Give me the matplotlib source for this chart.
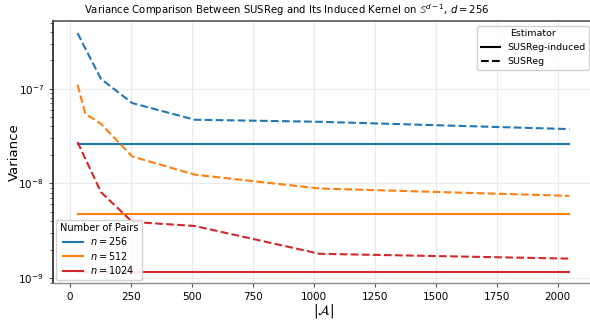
import numpy as np
import matplotlib
matplotlib.use("Agg")
import matplotlib.pyplot as plt
from matplotlib.lines import Line2D

# |A| sizes
A = [32, 64, 128, 256, 512, 1024, 2048]
pairs = [256, 512, 1024]
colores = ["tab:blue", "tab:orange", "tab:red"]

# SUSReg variance (dashed)
susreg_256 = [3.87e-7, 2.65e-7, 1.27e-7, 7.06e-8, 4.71e-8, 4.48e-8, 3.75e-8]
susreg_512 = [1.10e-7, 5.45e-8, 4.26e-8, 1.93e-8, 1.24e-8, 8.85e-9, 7.4e-9]
susreg_1024 = [2.74e-8, 1.82e-8, 8.1e-9, 3.93e-9, 3.56e-9, 1.81e-9, 1.61e-9]

# SUSReg-induced kernel variance (solid, constant in |A|)
induced_256 = [2.62e-8] * len(A)
induced_512 = [4.71e-9] * len(A)
induced_1024 = [1.16e-9] * len(A)

susreg = [susreg_256, susreg_512, susreg_1024]
induced = [induced_256, induced_512, induced_1024]

fig = plt.figure(figsize=(5.9, 3.2), dpi=100)
ax = fig.add_axes([0.0898, 0.1156, 0.917, 0.819])

lineas_n = []
for n, c, s, ind in zip(pairs, colores, susreg, induced):
    l, = ax.plot(A, ind, "-", color=c, lw=1.5)
    ax.plot(A, s, "--", color=c, lw=1.5)
    lineas_n.append(l)

ax.set_yscale("log")
ax.set_xlim(-68.8, 2148.8)
ax.set_ylim(8.9e-10, 5.2e-7)
ax.set_xticks([0, 250, 500, 750, 1000, 1250, 1500, 1750, 2000])
ax.grid(True, which="major", color="#ebebeb", lw=0.9)
ax.set_axisbelow(True)
ax.tick_params(labelsize=7.5, length=3, color="#555555")
ax.tick_params(which="minor", length=2, color="#555555")

ax.spines["left"].set_color("#222222")
ax.spines["left"].set_linewidth(1.2)
ax.spines["top"].set_color("#555555")
ax.spines["top"].set_linewidth(1.2)
ax.spines["bottom"].set_color("#888888")
ax.spines["bottom"].set_linewidth(1.0)
ax.spines["right"].set_visible(False)

ax.set_xlabel(r"$|\mathcal{A}|$", fontsize=10, labelpad=0)
ax.set_ylabel("Variance", fontsize=9.5)
ax.yaxis.set_label_coords(-0.06, 0.5)
titulo = ax.set_title(r"Variance Comparison Between SUSReg and Its Induced Kernel on $\mathbb{S}^{d-1}$, $d=256$",
                      fontsize=7.3, pad=5)
titulo.set_x(0.4316)

## leyenda de n
leg1 = ax.legend(lineas_n, [r"$n=%d$" % n for n in pairs], title="Number of Pairs",
                 loc="lower left", fontsize=7, title_fontsize=7, framealpha=0.9,
                 labelspacing=0.25, borderaxespad=0.35, borderpad=0.35)
ax.add_artist(leg1)

## leyenda del estimador
est = [Line2D([], [], color="black", ls="-", lw=1.5),
       Line2D([], [], color="black", ls="--", lw=1.5)]
ax.legend(est, ["SUSReg-induced", "SUSReg"], title="Estimator", loc="upper right",
          fontsize=6.8, title_fontsize=6.8, framealpha=0.9, labelspacing=0.5,
          borderpad=0.4)

plt.savefig("out.png", dpi=100)
